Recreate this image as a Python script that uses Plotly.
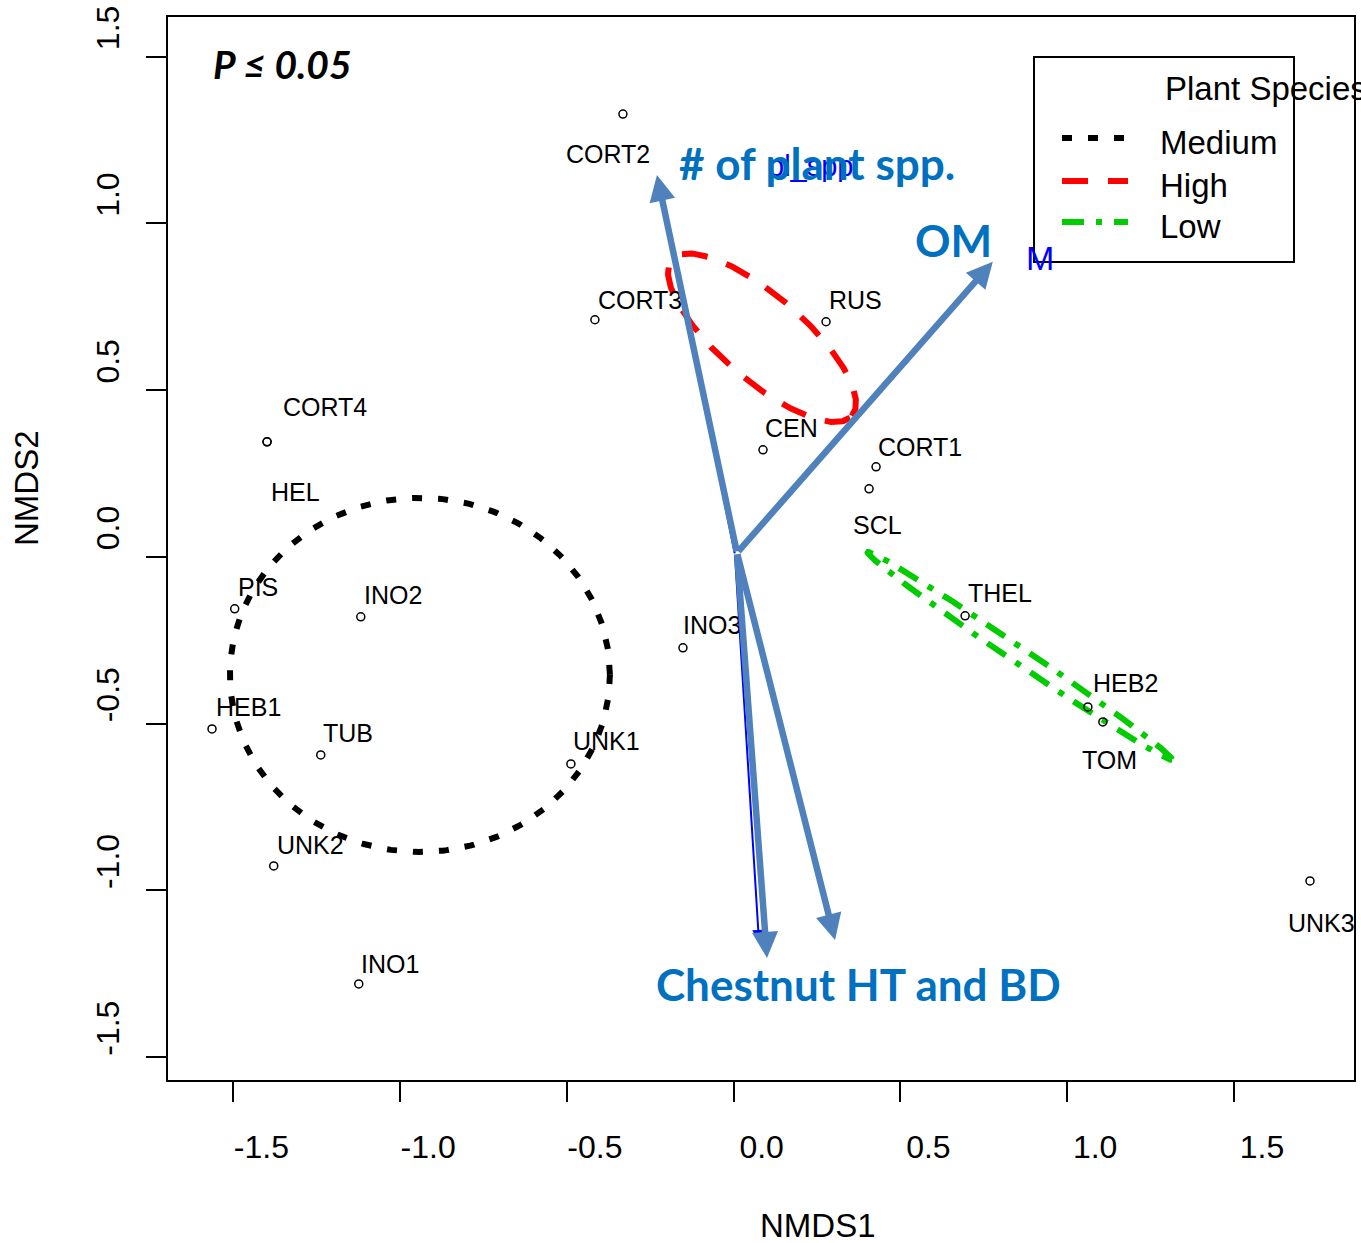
import numpy as np
import plotly.graph_objects as go

# ---------------- data ----------------
site_names = ["CORT2", "CORT3", "RUS", "CEN", "CORT1", "SCL", "THEL", "HEB2", "TOM", "UNK3",
              "CORT4", "HEL", "PIS", "INO2", "HEB1", "TUB", "UNK1", "INO3", "UNK2", "INO1"]
nmds1 = [-0.332, -0.416, 0.277, 0.088, 0.427, 0.406, 0.694, 1.062, 1.107, 1.728,
         -1.399, -1.399, -1.496, -1.118, -1.564, -1.238, -0.488, -0.152, -1.379, -1.124]
nmds2 = [1.328, 0.711, 0.705, 0.321, 0.270, 0.204, -0.177, -0.450, -0.495, -0.972,
         0.345, 0.345, -0.156, -0.180, -0.516, -0.594, -0.621, -0.273, -0.927, -1.281]

# ellipse parameters per group (center x, center y, semi-axis a, semi-axis b, angle deg)
groups = ["Medium", "High", "Low"]
ell_cx = [-0.941, 0.085, 0.858]
ell_cy = [-0.354, 0.657, -0.297]
ell_a = [0.570, 0.357, 0.552]
ell_b = [0.531, 0.126, 0.024]
ell_ang = [0.0, -41.0, -34.3]

# environmental vectors (arrow tips), common origin
vec_origin = (0.010, 0.012)
vec_names = ["# of plant spp.", "OM", "Chestnut HT", "BD"]
vec_x = [-0.230, 0.777, 0.100, 0.304]
vec_y = [1.145, 0.885, -1.203, -1.149]
# original thin vectors from the ordination software
raw_origin = (0.004, 0.006)
raw_x = [-0.218, 0.076]
raw_y = [1.116, -1.155]

x_ticks = [-1.5, -1.0, -0.5, 0.0, 0.5, 1.0, 1.5]
y_ticks = [-1.5, -1.0, -0.5, 0.0, 0.5, 1.0, 1.5]

# ---------------- styles ----------------
W, H = 1361, 1243
PL, PR, PT, PB = 168, 1354, 17, 1080
XR = [-1.696, 1.860]
YR = [-1.569, 1.619]

def pxp(x):
    return (x - PL) / (PR - PL)

def pyp(y):
    return (PB - y) / (PB - PT)

FONT = "Liberation Sans, Arial, sans-serif"
BOLDFONT = "Lato, Open Sans, sans-serif"
ARROW = "#4F81BD"
TXTBLUE = "#0070C0"

ell_style = {
    "Medium": dict(color="black", width=6, dash="10px,16px"),
    "High": dict(color="#FF0000", width=6, dash="26px,20px"),
    "Low": dict(color="#00CC00", width=6, dash="22px,12px,6px,12px"),
}

# label offsets in pixels (dx, dy up)
label_off = {
    "CORT2": (-15, -40), "CORT3": (45, 20), "RUS": (29, 22), "CEN": (28, 22),
    "CORT1": (44, 20), "SCL": (8, -36), "THEL": (35, 23), "HEB2": (38, 24),
    "TOM": (7, -38), "UNK3": (12, -42), "CORT4": (58, 35), "HEL": (28, -50),
    "PIS": (23, 22), "INO2": (32, 22), "HEB1": (36, 22), "TUB": (27, 22),
    "UNK1": (36, 23), "INO3": (29, 23), "UNK2": (37, 21), "INO1": (31, 20),
}

def paper_text(text, x, y, size, color="black", family=FONT, xanchor="center", angle=0):
    return dict(x=pxp(x), y=pyp(y), xref="paper", yref="paper", text=text,
                showarrow=False, xanchor=xanchor, yanchor="middle", textangle=angle,
                font=dict(family=family, size=size, color=color))

fig = go.Figure()

# ellipses
t = np.linspace(0, 2 * np.pi, 300)
for g, cx, cy, a, b, ang in zip(groups, ell_cx, ell_cy, ell_a, ell_b, ell_ang):
    phi = np.deg2rad(ang)
    ex = cx + a * np.cos(t) * np.cos(phi) - b * np.sin(t) * np.sin(phi)
    ey = cy + a * np.cos(t) * np.sin(phi) + b * np.sin(t) * np.cos(phi)
    fig.add_trace(go.Scatter(x=ex, y=ey, mode="lines", line=ell_style[g],
                             showlegend=False, hoverinfo="skip"))

# sites
fig.add_trace(go.Scatter(x=nmds1, y=nmds2, mode="markers",
                         marker=dict(symbol="circle-open", size=8, color="black",
                                     line=dict(width=1.5, color="black")),
                         showlegend=False, text=site_names))

annotations = []
for n, x, y in zip(site_names, nmds1, nmds2):
    dx, dy = label_off[n]
    annotations.append(dict(x=x, y=y, xref="x", yref="y", text=n, showarrow=False,
                            xanchor="center", yanchor="middle",
                            xshift=dx, yshift=dy, font=dict(family=FONT, size=25, color="black")))

# thin raw vectors
for x, y in zip(raw_x, raw_y):
    annotations.append(dict(x=x, y=y, ax=raw_origin[0], ay=raw_origin[1], xref="x", yref="y",
                            axref="x", ayref="y", text="", showarrow=True, arrowhead=2,
                            arrowsize=1.2, arrowwidth=2, arrowcolor="#0000FF"))
annotations.append(paper_text("pl_spp", 810, 166, 29, color="#0000FF"))
annotations.append(paper_text("M", 1040, 258, 34, color="#0000FF"))

# thick vectors
for x, y in zip(vec_x, vec_y):
    annotations.append(dict(x=x, y=y, ax=vec_origin[0], ay=vec_origin[1], xref="x", yref="y",
                            axref="x", ayref="y", text="", showarrow=True, arrowhead=2,
                            arrowsize=0.8, arrowwidth=6.5, arrowcolor=ARROW))

# vector labels
bold_labels = [("# of plant spp.", 817, 163), ("OM", 953, 240), ("Chestnut HT and BD", 858, 984)]
for txt, x, y in bold_labels:
    annotations.append(paper_text("<b>%s</b>" % txt, x, y, 44, color=TXTBLUE, family=BOLDFONT))

annotations.append(paper_text("<b><i>P ≤ 0.05</i></b>", 282, 64, 39, family=BOLDFONT))

# axis titles
annotations.append(paper_text("NMDS1", 818, 1225, 33))
annotations.append(paper_text("NMDS2", 27, 488, 33, angle=-90))

# legend
shapes = [dict(type="rect", xref="paper", yref="paper", x0=pxp(1034), x1=pxp(1294),
               y0=pyp(262), y1=pyp(57), line=dict(color="black", width=2),
               fillcolor="white", layer="above")]
leg_y = [138, 181, 222]
leg_ty = [143, 185, 226]
for g, ly, ty in zip(groups, leg_y, leg_ty):
    st = ell_style[g]
    shapes.append(dict(type="line", xref="paper", yref="paper", x0=pxp(1062), x1=pxp(1128),
                       y0=pyp(ly), y1=pyp(ly), layer="above",
                       line=dict(color=st["color"], width=st["width"], dash=st["dash"])))
    annotations.append(paper_text(g, 1158, ty, 33, xanchor="left"))
annotations.append(paper_text("Plant Species", 1163, 88, 33, xanchor="left"))

axis_common = dict(showgrid=False, zeroline=False, showline=True, mirror=True,
                   linecolor="black", linewidth=2, ticks="outside", ticklen=20,
                   tickwidth=2, tickcolor="black", automargin=False,
                   tickfont=dict(family=FONT, size=32, color="black"))

fig.update_layout(
    width=W, height=H,
    margin=dict(l=PL, r=W - PR, t=PT, b=H - PB),
    paper_bgcolor="white", plot_bgcolor="white",
    showlegend=False,
    xaxis=dict(range=XR, tickvals=x_ticks, ticktext=["%.1f" % v for v in x_ticks],
               ticklabelstandoff=18, ticklabelshift=28, **axis_common),
    yaxis=dict(range=YR, tickvals=y_ticks, ticktext=["%.1f" % v for v in y_ticks],
               tickangle=-90, ticklabelstandoff=14, ticklabelshift=-24, **axis_common),
    annotations=annotations,
    shapes=shapes,
)

fig.write_html("out.html")
